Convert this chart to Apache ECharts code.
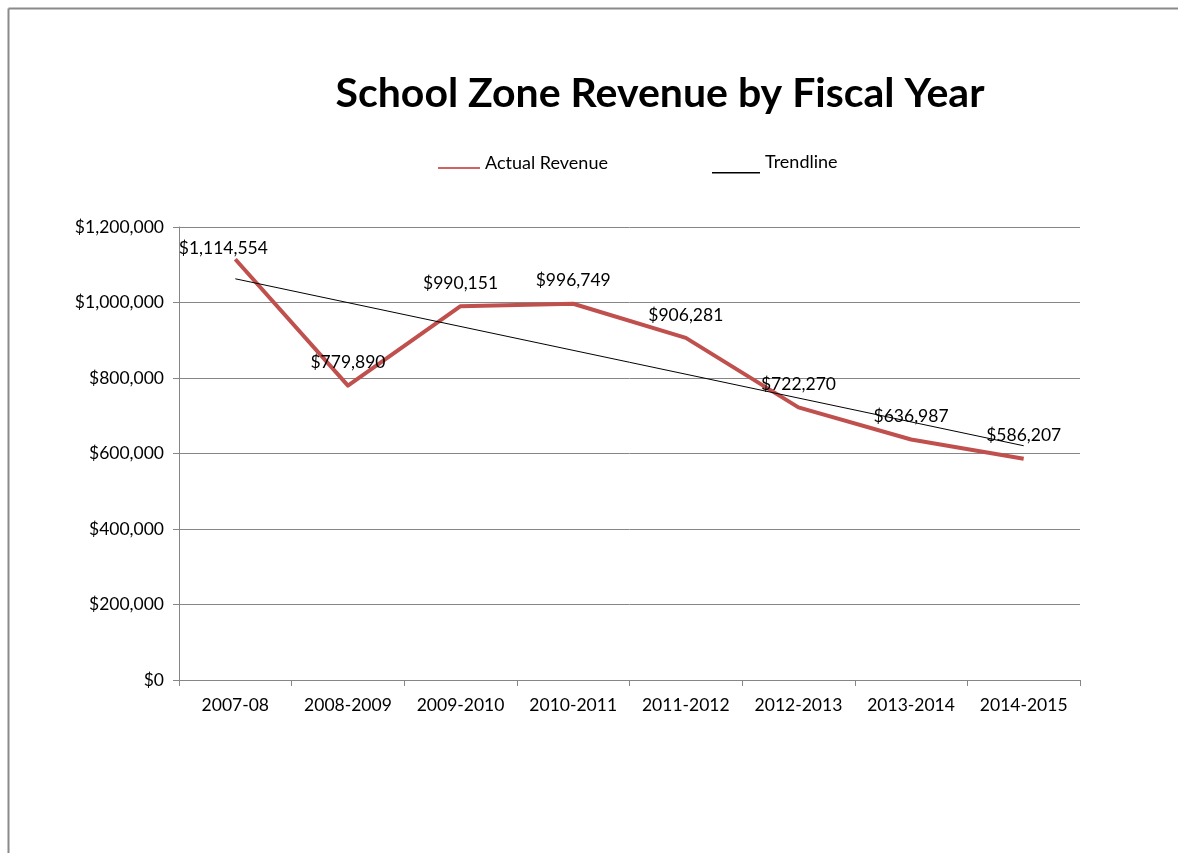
<!DOCTYPE html>
<html>
<head>
<meta charset="utf-8">
<title>School Zone Revenue by Fiscal Year</title>
<script src="https://cdn.jsdelivr.net/npm/echarts@6/dist/echarts.min.js"></script>
<style>
  html, body { margin: 0; padding: 0; background: #fff; }
  #chart { width: 1178px; height: 853px; }
</style>
</head>
<body>
<div id="chart"></div>
<script>
// Fiscal years on the category axis
const fiscalYears = ['2007-08', '2008-2009', '2009-2010', '2010-2011', '2011-2012', '2012-2013', '2013-2014', '2014-2015'];
// Actual school zone revenue per fiscal year (USD)
const actualRevenue = [1114554, 779890, 990151, 996749, 906281, 722270, 636987, 586207];
// Linear trendline end values (first and last fiscal year)
const trendStart = 1062800;
const trendEnd = 620500;
// Value axis ticks
const yTicks = [0, 200000, 400000, 600000, 800000, 1000000, 1200000];

const FONT = 'Lato, "Open Sans", sans-serif';
const money = v => '$' + String(Math.round(v)).replace(/\B(?=(\d{3})+(?!\d))/g, ',');

const trendData = fiscalYears.map((_, i) =>
  i === 0 ? trendStart : (i === fiscalYears.length - 1 ? trendEnd : '-'));

const chart = echarts.init(document.getElementById('chart'), null, { renderer: 'canvas' });

chart.setOption({
  backgroundColor: '#ffffff',
  animation: false,
  textStyle: { fontFamily: FONT },
  title: {
    text: 'School Zone Revenue by Fiscal Year',
    left: 655,
    textAlign: 'center',
    top: 68,
    textStyle: { fontFamily: FONT, fontSize: 41, fontWeight: 'bold', color: '#000' }
  },
  legend: [
    {
      data: [{ name: 'Actual Revenue', icon: 'path://M0,0M0,12L42,12L42,14L0,14ZM0,16' }],
      left: 433, top: 149,
      itemWidth: 42, itemHeight: 16, itemGap: 10,
      itemStyle: { color: '#D06262' },
      textStyle: { fontFamily: FONT, fontSize: 18, color: '#000' }
    },
    {
      data: [{ name: 'Trendline', icon: 'path://M0,0M0,22L48,22L48,23.6L0,23.6ZM0,24' }],
      left: 707, top: 145,
      itemWidth: 48, itemHeight: 24, itemGap: 7,
      itemStyle: { color: '#000' },
      textStyle: { fontFamily: FONT, fontSize: 18, color: '#000' }
    }
  ],
  grid: { left: 179, right: 98, top: 227, bottom: 173, containLabel: false },
  xAxis: {
    type: 'category',
    data: fiscalYears,
    boundaryGap: true,
    axisLine: { lineStyle: { color: '#868686', width: 1 } },
    axisTick: { show: true, interval: 0, length: 6, lineStyle: { color: '#868686' } },
    axisLabel: { interval: 0, fontFamily: FONT, fontSize: 17.5, color: '#000', margin: 16 }
  },
  yAxis: {
    type: 'value',
    min: yTicks[0],
    max: yTicks[yTicks.length - 1],
    interval: yTicks[1] - yTicks[0],
    axisLine: { show: true, lineStyle: { color: '#868686', width: 1 } },
    axisTick: { show: true, length: 6, lineStyle: { color: '#868686' } },
    splitLine: { show: true, lineStyle: { color: '#868686', width: 1 } },
    axisLabel: { fontFamily: FONT, fontSize: 17.5, color: '#000', margin: 15, formatter: money }
  },
  series: [
    {
      name: 'Trendline',
      type: 'line',
      data: trendData,
      connectNulls: true,
      symbol: 'none',
      z: 3,
      lineStyle: { color: '#000', width: 1 },
      itemStyle: { color: '#000' }
    },
    {
      name: 'Actual Revenue',
      type: 'line',
      data: actualRevenue,
      symbol: 'circle',
      symbolSize: 0,
      showSymbol: true,
      z: 2,
      lineStyle: { color: '#C0504D', width: 4, join: 'round' },
      itemStyle: { color: '#C0504D' },
      label: {
        show: true,
        position: 'top',
        distance: 14,
        fontFamily: FONT,
        fontSize: 17.5,
        color: '#000',
        formatter: p => money(p.value)
      },
      // keep the first label inside the plot area, below its top edge
      labelLayout: p => (p.dataIndex === 0 ? { dx: -12, dy: 12, hideOverlap: false } : { hideOverlap: false })
    }
  ],
  graphic: [
    { type: 'line', shape: { x1: 8.5, y1: 8.5, x2: 1178, y2: 8.5 }, style: { stroke: '#8a8a8a', lineWidth: 2 }, silent: true },
    { type: 'line', shape: { x1: 8.5, y1: 8.5, x2: 8.5, y2: 853 }, style: { stroke: '#8a8a8a', lineWidth: 2 }, silent: true }
  ]
});
</script>
</body>
</html>
